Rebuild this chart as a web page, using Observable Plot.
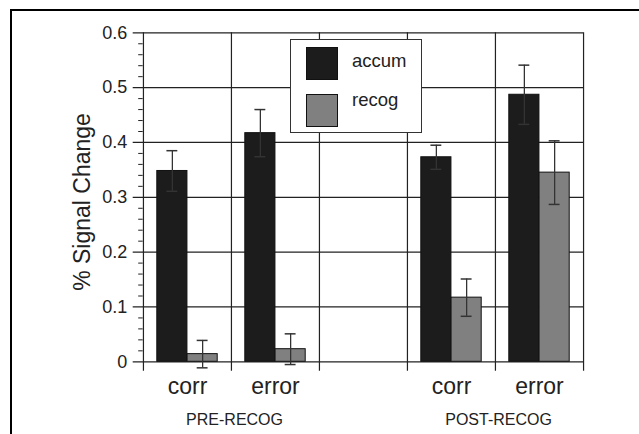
<!DOCTYPE html>
<html>
<head>
<meta charset="utf-8">
<script src="https://cdn.jsdelivr.net/npm/d3@7"></script>
<script src="https://cdn.jsdelivr.net/npm/@observablehq/plot@0.6"></script>
<style>
  body { margin: 0; background: #fff; }
  #wrap { position: relative; width: 639px; height: 434px; overflow: hidden; font-family: "Liberation Sans", Arial, sans-serif; }
  #border { position: absolute; left: 10px; top: 9px; width: 700px; height: 600px; border-left: 2px solid #000; border-top: 2px solid #000; box-sizing: border-box; pointer-events: none; }
  #legend { position: absolute; left: 290px; top: 39px; width: 132px; height: 94px; background: #fff; border: 1.5px solid #333; box-sizing: border-box; }
  .sw { position: absolute; left: 15px; width: 32px; height: 33px; border: 1px solid #111; box-sizing: border-box; }
  .lt { position: absolute; left: 61px; font-size: 18.5px; color: #222; line-height: 1; }
</style>
</head>
<body>
<div id="wrap">
  <div id="chart"></div>
  <div id="border"></div>
  <div id="legend"></div>
</div>
<script>
// ---- data ----
const conditions = ["pre-corr", "pre-error", "gap", "post-corr", "post-error"];
const tickLabels = ["corr", "error", "", "corr", "error"];
const groups = ["PRE-RECOG", "POST-RECOG"];
const groupAnchors = ["pre-corr", "post-corr"];
const series = ["accum", "recog"];
const seriesColors = ["#1c1c1c", "#808080"];
const accumValues = [0.348, 0.417, null, 0.373, 0.487];
const accumErrors = [0.037, 0.043, null, 0.022, 0.054];
const recogValues = [0.014, 0.023, null, 0.117, 0.345];
const recogErrors = [0.025, 0.028, null, 0.034, 0.058];
const yTicks = [0, 0.1, 0.2, 0.3, 0.4, 0.5, 0.6];
const yMinorTicks = [0.02, 0.04, 0.06, 0.08, 0.12, 0.14, 0.16, 0.18, 0.22, 0.24, 0.26, 0.28,
  0.32, 0.34, 0.36, 0.38, 0.42, 0.44, 0.46, 0.48, 0.52, 0.54, 0.56, 0.58];
const yLabel = "% Signal Change";

// ---- rows ----
const rows = [];
conditions.forEach((c, i) => {
  if (accumValues[i] != null) rows.push({cond: c, series: "accum", value: accumValues[i], err: accumErrors[i]});
  if (recogValues[i] != null) rows.push({cond: c, series: "recog", value: recogValues[i], err: recogErrors[i]});
});

// ---- layout ----
const W = 639, H = 434;
const mL = 142.7, mR = 55.7, mT = 32.3, mB = 72.7;
const plotW = W - mL - mR;
const bw = plotW / conditions.length;
const outer = 13.8;
const barW = (bw - 2 * outer) / 2;
const capW = 11;
const gridColor = "#222";

const accumRows = rows.filter(d => d.series === "accum");
const recogRows = rows.filter(d => d.series === "recog");
const colorOf = s => seriesColors[series.indexOf(s)];

const errMarks = (data, dx) => [
  Plot.ruleX(data, {x: "cond", y1: d => d.value - d.err, y2: d => d.value + d.err, dx, stroke: "#333", strokeWidth: 1.3}),
  Plot.tickY(data, {x: "cond", y: d => d.value + d.err, dx, insetLeft: (bw - capW) / 2, insetRight: (bw - capW) / 2, stroke: "#333", strokeWidth: 1.5}),
  Plot.tickY(data, {x: "cond", y: d => d.value - d.err, dx, insetLeft: (bw - capW) / 2, insetRight: (bw - capW) / 2, stroke: "#333", strokeWidth: 1.5})
];

const chart = Plot.plot({
  width: W,
  height: H,
  marginLeft: mL,
  marginRight: mR,
  marginTop: mT,
  marginBottom: mB,
  style: {fontFamily: "'Liberation Sans', Arial, sans-serif", fontSize: "18px", color: "#222", background: "transparent"},
  x: {domain: conditions, padding: 0, axis: null},
  y: {domain: [0, 0.6], ticks: yTicks, tickFormat: d => d === 0 ? "0" : d.toFixed(1), tickSize: 0, tickPadding: 16, label: null},
  marks: [
    // horizontal gridlines (extend left as major ticks)
    Plot.ruleY(yTicks, {stroke: gridColor, strokeWidth: 1.2, insetLeft: -10}),
    // minor ticks
    Plot.ruleY(yMinorTicks, {stroke: gridColor, strokeWidth: 1, insetLeft: -4.5, insetRight: plotW}),
    // vertical boundaries (extend below axis as ticks)
    Plot.ruleX(conditions, {x: d => d, dx: -bw / 2, stroke: gridColor, strokeWidth: 1.2, insetBottom: -9.5}),
    Plot.ruleX([conditions[conditions.length - 1]], {x: d => d, dx: bw / 2, stroke: gridColor, strokeWidth: 1.2, insetBottom: -9.5}),
    // bars
    Plot.barY(accumRows, {x: "cond", y: "value", fill: d => colorOf(d.series), stroke: "#111", strokeWidth: 1, insetLeft: outer, insetRight: outer + barW}),
    Plot.barY(recogRows, {x: "cond", y: "value", fill: d => colorOf(d.series), stroke: "#111", strokeWidth: 1, insetLeft: outer + barW, insetRight: outer}),
    ...errMarks(accumRows, -barW / 2),
    ...errMarks(recogRows, barW / 2),
    // x tick labels
    Plot.text(conditions, {x: d => d, text: (d, i) => tickLabels[i], frameAnchor: "bottom", lineAnchor: "middle", dy: 25, fontSize: 23, fill: "#222"}),
    // group labels
    Plot.text(groups, {x: (d, i) => groupAnchors[i], text: d => d, dx: bw / 2 + 3, frameAnchor: "bottom", lineAnchor: "middle", dy: 57.6, fontSize: 16, fill: "#222"}),
    // y label
    Plot.text([yLabel], {text: d => d, frameAnchor: "left", textAnchor: "middle", lineAnchor: "middle", rotate: -90, dx: -61, dy: 4.7, fontSize: 23, fill: "#222"})
  ]
});
document.getElementById("chart").appendChild(chart);

// ---- legend ----
const legend = document.getElementById("legend");
const swTops = [7.2, 53.8];
const txtTops = [12, 51];
series.forEach((s, i) => {
  const sw = document.createElement("div");
  sw.className = "sw";
  sw.style.top = swTops[i] + "px";
  sw.style.background = seriesColors[i];
  legend.appendChild(sw);
  const t = document.createElement("div");
  t.className = "lt";
  t.style.top = txtTops[i] + "px";
  t.textContent = s;
  legend.appendChild(t);
});
</script>
</body>
</html>
